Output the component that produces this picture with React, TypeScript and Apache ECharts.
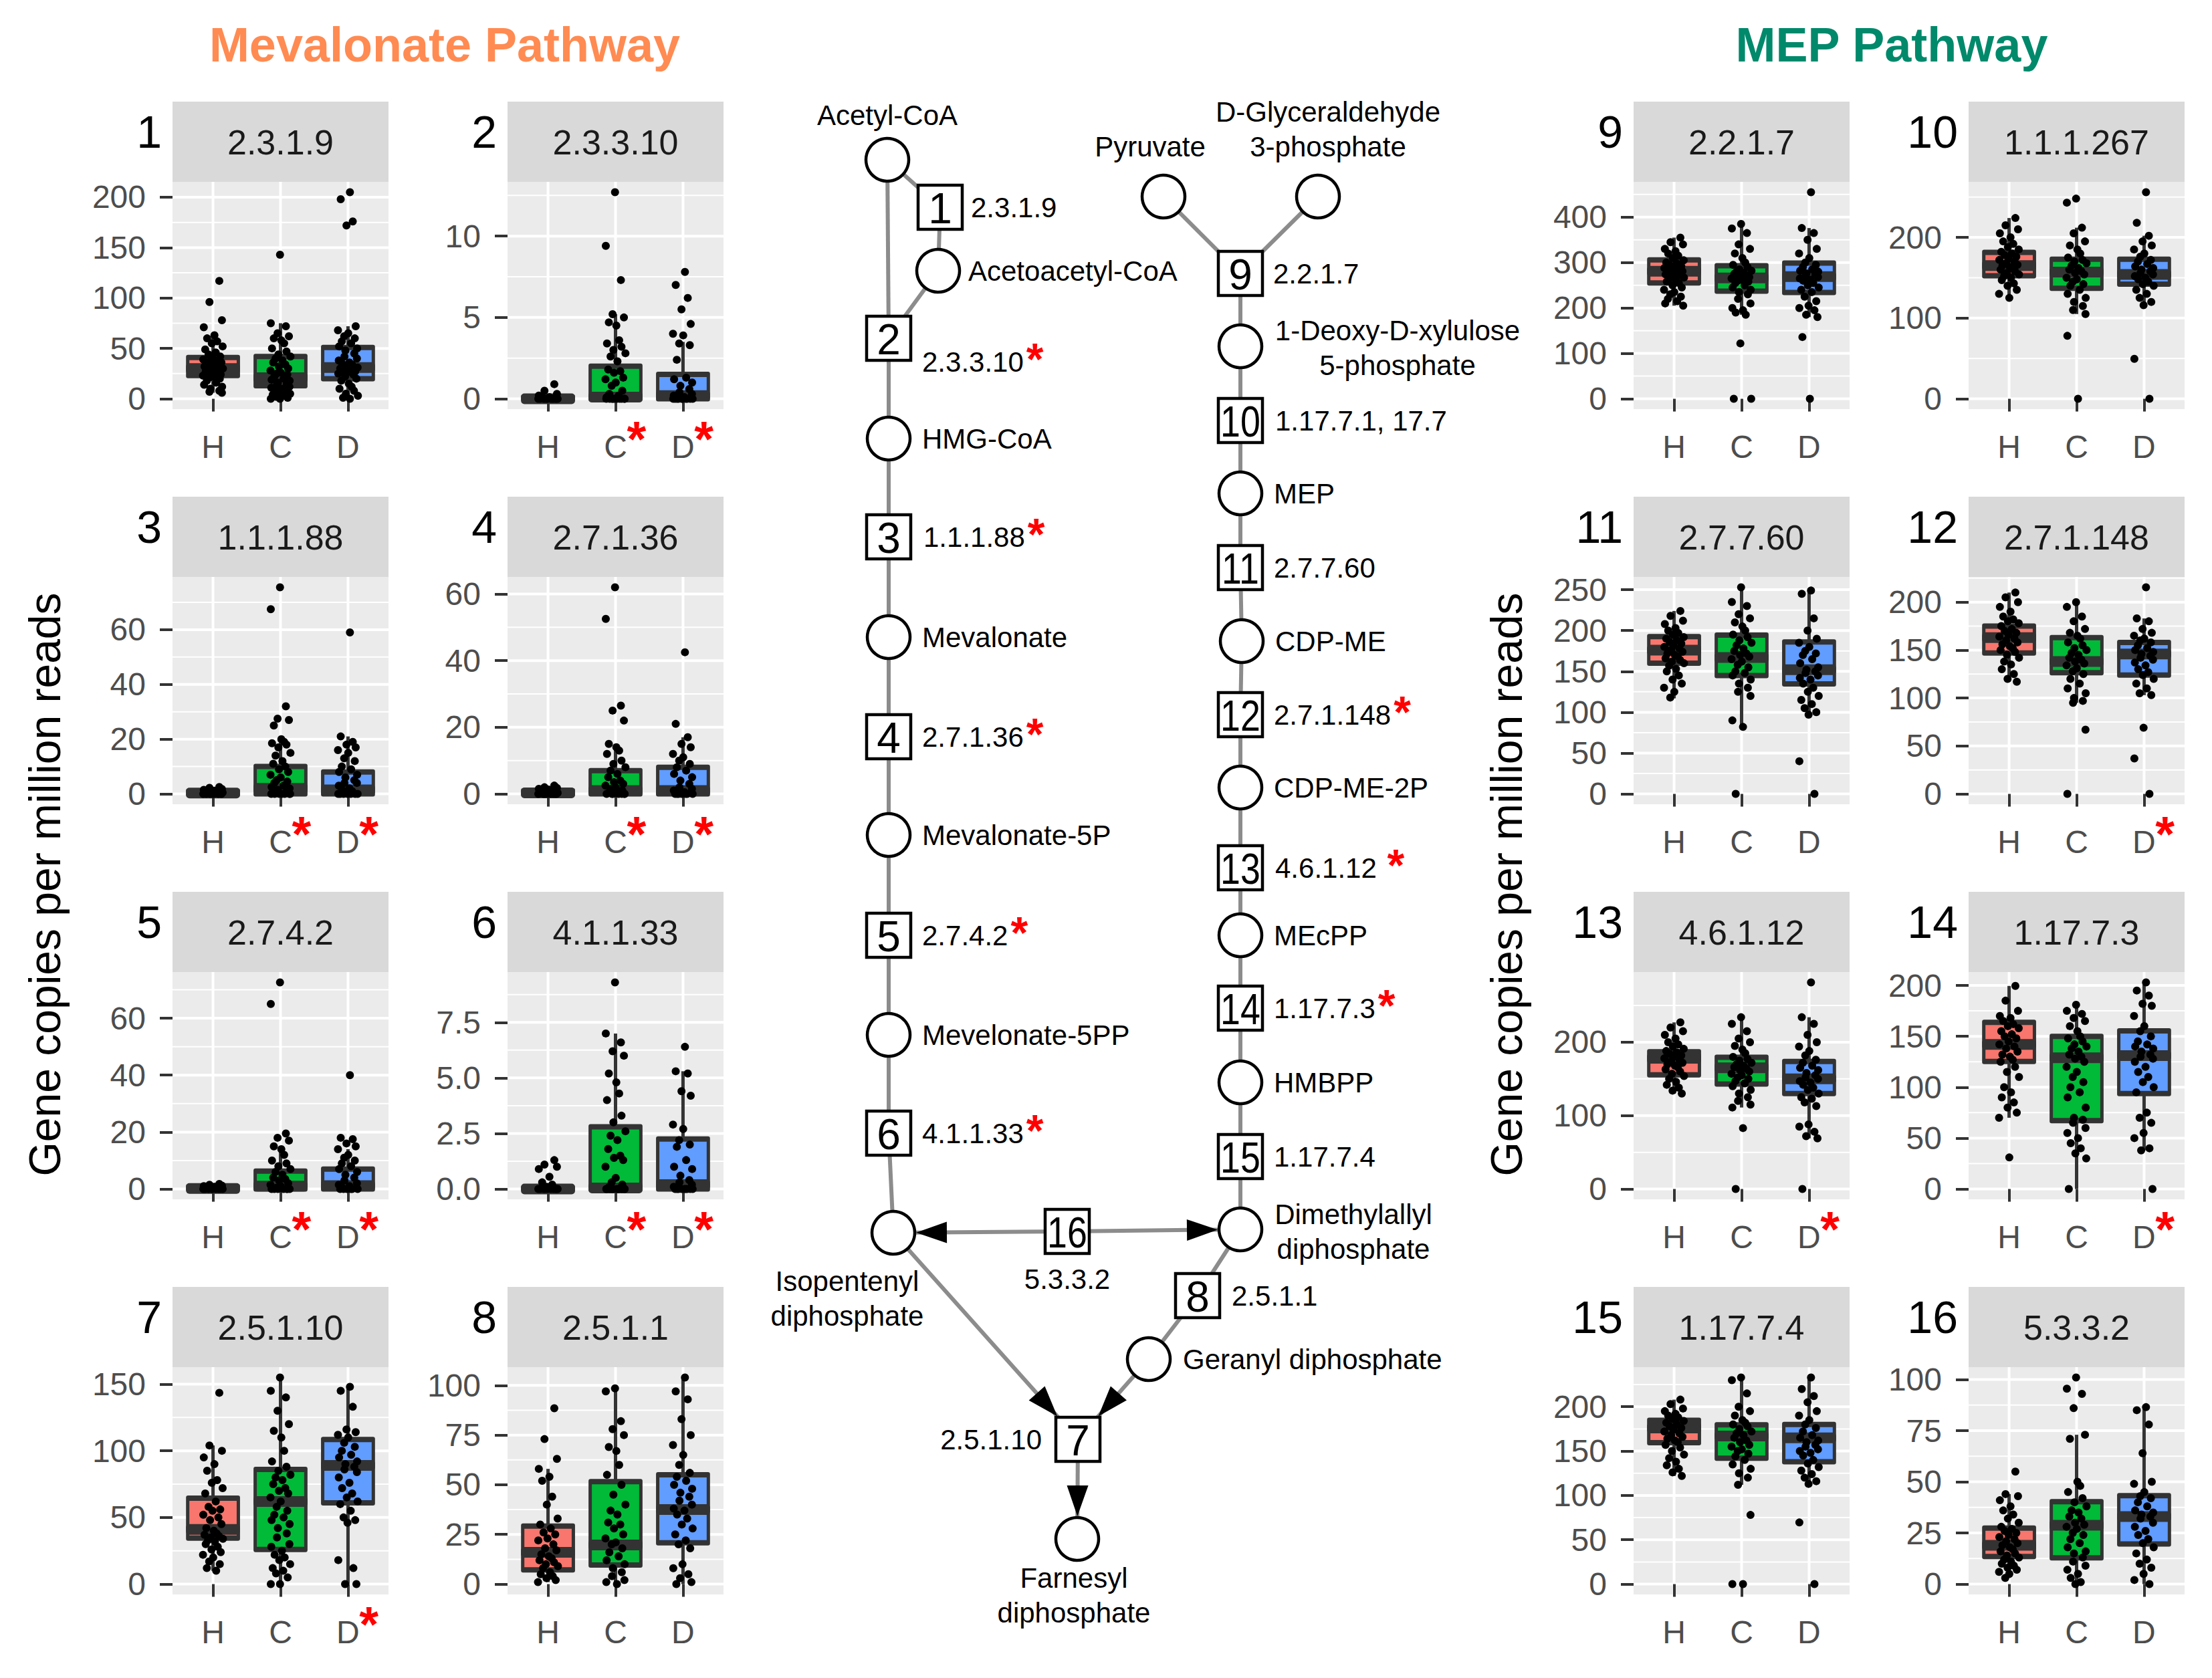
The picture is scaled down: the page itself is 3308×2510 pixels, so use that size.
import React, { useEffect, useRef } from 'react';
import * as echarts from 'echarts';

// ---------------- DATA ----------------
const GROUPS = ['H', 'C', 'D'];
const GROUP_COLORS = ['#F8766D', '#00BA38', '#619CFF'];

const EC_NUMBERS = ['2.3.1.9', '2.3.3.10', '1.1.1.88', '2.7.1.36', '2.7.4.2', '4.1.1.33', '2.5.1.10', '2.5.1.1',
  '2.2.1.7', '1.1.1.267', '2.7.7.60', '2.7.1.148', '4.6.1.12', '1.17.7.3', '1.17.7.4', '5.3.3.2'];

const Y_TICKS = [
  [0, 50, 100, 150, 200], [0, 5, 10], [0, 20, 40, 60], [0, 20, 40, 60], [0, 20, 40, 60], [0, 2.5, 5, 7.5],
  [0, 50, 100, 150], [0, 25, 50, 75, 100], [0, 100, 200, 300, 400], [0, 100, 200], [0, 50, 100, 150, 200, 250],
  [0, 50, 100, 150, 200], [0, 100, 200], [0, 50, 100, 150, 200], [0, 50, 100, 150, 200], [0, 25, 50, 75, 100],
];
const Y_DECIMALS = [0, 0, 0, 0, 0, 1, 0, 0, 0, 0, 0, 0, 0, 0, 0, 0];

// significance asterisk per group (H, C, D)
const SIGNIFICANT = [
  [0, 0, 0], [0, 1, 1], [0, 1, 1], [0, 1, 1], [0, 1, 1], [0, 1, 1], [0, 0, 1], [0, 0, 0],
  [0, 0, 0], [0, 0, 0], [0, 0, 0], [0, 0, 1], [0, 0, 1], [0, 0, 1], [0, 0, 0], [0, 0, 0],
];

// box stats per group: [lower whisker, Q1, median, Q3, upper whisker]
const P1_BOX = [[6, 23, 30, 41, 65], [0, 13, 21, 42, 75], [0, 20, 31, 51, 72]];
const P1_PTS = [
  [117, 96, 78, 71, 63, 60, 57, 55, 52, 49, 46, 44, 42, 40, 39, 38, 37, 36, 35, 34, 33, 32, 31, 30, 30, 29, 28, 27, 26, 25, 24, 23, 22, 21, 20, 18, 16, 14, 12, 10, 8, 7, 6],
  [143, 75, 72, 65, 62, 60, 58, 55, 50, 47, 44, 42, 40, 38, 36, 34, 32, 30, 28, 26, 25, 24, 22, 20, 19, 18, 16, 15, 14, 12, 11, 10, 9, 8, 6, 5, 4, 3, 2, 1, 0, 0],
  [205, 198, 176, 172, 72, 68, 65, 62, 60, 57, 55, 52, 50, 48, 45, 42, 40, 38, 36, 35, 34, 32, 31, 30, 29, 28, 27, 26, 25, 24, 22, 20, 18, 15, 12, 10, 8, 5, 3, 1, 0],
];
const P2_BOX = [[0, 0, 0, 0.1, 0.25], [0, 0, 0.1, 2.0, 5.2], [0, 0, 0.2, 1.5, 3.5]];
const P2_PTS = [
  [0.9, 0.5, 0.3, 0.2, 0.1, 0.1, 0, 0, 0, 0, 0, 0, 0, 0, 0, 0, 0, 0],
  [12.7, 9.4, 7.3, 5.2, 5.0, 4.7, 4.5, 3.6, 3.4, 3.2, 3.0, 2.8, 2.6, 2.3, 1.8, 1.7, 1.6, 1.3, 1.2, 1.0, 0.8, 0.5, 0.3, 0.2, 0.1, 0, 0, 0, 0, 0, 0, 0, 0, 0, 0],
  [7.8, 7.0, 6.2, 5.5, 4.6, 4.0, 3.9, 3.4, 3.3, 2.4, 1.3, 1.2, 1.0, 0.8, 0.6, 0.4, 0.3, 0.2, 0.1, 0, 0, 0, 0, 0, 0, 0, 0, 0, 0],
];
const P3_BOX = [[0, 0, 0.3, 1.0, 2.5], [0, 0, 2, 10, 20], [0, 0, 1.5, 8, 21]];
const P3_PTS = [
  [2.5, 2.2, 1.8, 1.5, 1.2, 1.0, 0.8, 0.6, 0.5, 0.4, 0.3, 0.2, 0.1, 0, 0, 0, 0, 0, 0, 0],
  [75.5, 67.5, 32, 27.5, 27, 25, 20, 19, 18.5, 18, 17, 15, 14, 12, 11, 10, 9, 8, 7, 6, 5, 4.5, 4, 3, 2.5, 2, 1.5, 1, 0.5, 0, 0, 0, 0, 0, 0, 0],
  [59, 21, 19, 18, 17, 16, 15, 13, 12, 10, 9, 8, 7, 6, 5, 4, 4, 3, 2, 1.5, 1, 0.5, 0, 0, 0, 0, 0, 0, 0],
];
const P4_BOX = [[0, 0, 0.3, 0.9, 2.5], [0, 0, 1, 7, 14], [0, 0, 1, 8, 17]];
const P4_PTS = [
  [2.5, 2.0, 1.8, 1.5, 1.2, 1.0, 0.8, 0.5, 0.3, 0.2, 0, 0, 0, 0, 0, 0, 0, 0],
  [62, 52.5, 26.5, 25, 22, 15, 14, 13, 12, 10, 9, 8, 7, 6, 5, 4, 3.5, 3, 2.5, 2, 1.5, 1, 0.5, 0, 0, 0, 0, 0, 0, 0],
  [42.5, 21, 17, 15, 14, 12, 11, 10, 9, 8, 7, 6, 5, 4, 3, 2, 1.5, 1, 0.5, 0, 0, 0, 0, 0, 0, 0],
];
const P5_BOX = [[0, 0, 0.2, 0.8, 1.8], [0, 0, 1, 6.3, 14.3], [0, 0, 1.2, 7, 14]];
const P5_PTS = [
  [1.8, 1.5, 1.2, 1.0, 0.8, 0.5, 0.3, 0, 0, 0, 0, 0, 0, 0, 0, 0],
  [72.6, 65, 19.5, 18, 17, 15, 14, 12, 10, 9, 8, 7, 6, 5, 4, 3.5, 3, 2, 1.5, 1, 0.5, 0, 0, 0, 0, 0, 0, 0],
  [40, 18, 17.5, 16, 15, 14, 12, 11, 10, 9, 8, 7, 6, 5, 4, 3, 2, 1.5, 1, 0.5, 0, 0, 0, 0, 0, 0],
];
const P6_BOX = [[0, 0, 0, 0.05, 0.1], [0, 0, 0.05, 2.8, 7.0], [0, 0, 0.2, 2.25, 5.3]];
const P6_PTS = [
  [1.3, 1.1, 1.0, 0.9, 0.55, 0.3, 0.2, 0.1, 0, 0, 0, 0, 0, 0, 0, 0, 0, 0],
  [9.3, 7.0, 6.6, 6.2, 6.0, 5.2, 4.8, 4.3, 4.0, 3.3, 3.0, 2.6, 2.4, 2.2, 1.8, 1.5, 1.4, 1.3, 1.0, 0.5, 0.3, 0.2, 0.1, 0, 0, 0, 0, 0, 0, 0, 0, 0, 0],
  [6.4, 5.3, 5.2, 4.4, 4.2, 2.9, 2.7, 2.2, 2.0, 1.9, 1.3, 1.0, 0.9, 0.6, 0.4, 0.3, 0.2, 0.1, 0, 0, 0, 0, 0, 0, 0, 0, 0],
];
const P7_BOX = [[10, 34.5, 41, 64.5, 104], [0, 26, 62, 86, 155], [0, 61, 89, 108.5, 148]];
const P7_PTS = [
  [143.5, 104, 100, 95, 90, 85, 78, 76, 72, 68, 62, 58, 56, 55, 52, 50, 48, 45, 42, 40, 38, 37, 36, 35, 34, 33, 32, 30, 28, 26, 24, 22, 20, 17, 15, 12, 10],
  [155, 145, 140, 130, 120, 115, 110, 100, 92, 88, 85, 82, 80, 78, 75, 72, 70, 68, 65, 62, 58, 55, 52, 50, 48, 45, 42, 38, 35, 30, 28, 25, 22, 20, 18, 15, 12, 10, 8, 5, 0, 0],
  [148, 145, 133, 116, 114, 112, 110, 106, 103, 100, 97, 95, 92, 90, 88, 86, 84, 80, 76, 72, 68, 65, 62, 60, 55, 50, 48, 46, 18, 12, 0, 0],
];
const P8_BOX = [[1, 7.2, 16, 29.2, 58], [0, 9.6, 19.7, 51.6, 98.5], [0, 20.8, 37.5, 55, 104]];
const P8_PTS = [
  [88.5, 73, 63, 58, 54, 52, 44, 40, 33, 30, 28, 26, 25, 23, 22, 20, 18, 17, 15, 14, 13, 12, 11, 10, 9, 8, 6, 5, 4, 3, 2, 1],
  [98.5, 97, 82, 78, 75, 69, 67, 60, 55, 50, 45, 40, 37, 35, 31, 30, 28, 25, 23, 21, 20, 18, 16, 14, 12, 10, 8, 6, 4, 2, 1, 0],
  [104, 97, 93, 83, 75, 70, 65, 60, 56, 54, 52, 50, 48, 46, 44, 42, 40, 38, 37, 35, 33, 30, 28, 25, 22, 20, 18, 10, 8, 5, 3, 1, 0],
];
const P9_BOX = [[205, 255, 281, 306, 355], [185, 237, 266, 293, 385], [180, 234, 269, 299, 376]];
const P9_PTS = [
  [355, 345, 340, 330, 325, 320, 315, 310, 305, 300, 298, 295, 292, 290, 288, 285, 283, 281, 280, 278, 276, 274, 272, 270, 267, 265, 262, 258, 255, 250, 245, 240, 235, 230, 225, 220, 215, 210, 205],
  [385, 375, 365, 340, 330, 320, 310, 300, 295, 290, 285, 282, 280, 278, 275, 272, 270, 268, 265, 262, 260, 258, 255, 250, 245, 240, 235, 230, 220, 210, 200, 195, 190, 185, 122, 0, 0],
  [455, 376, 365, 350, 330, 320, 310, 300, 295, 290, 285, 282, 280, 276, 273, 270, 268, 265, 262, 260, 255, 250, 245, 240, 235, 225, 215, 205, 200, 195, 185, 180, 136, 0],
];
const P10_BOX = [[125, 152.5, 165, 181.5, 224], [105, 137, 157, 173, 212], [116, 142, 154, 173, 202]];
const P10_PTS = [
  [224, 215, 210, 205, 200, 195, 192, 188, 185, 182, 180, 178, 176, 174, 172, 170, 168, 166, 165, 163, 161, 160, 158, 156, 154, 152, 150, 147, 143, 140, 135, 130, 125],
  [248, 243, 212, 205, 195, 190, 185, 180, 175, 172, 170, 168, 165, 162, 160, 158, 156, 154, 150, 148, 145, 142, 140, 135, 130, 125, 120, 115, 110, 105, 78, 0],
  [256, 218, 202, 195, 190, 185, 180, 176, 172, 170, 167, 164, 162, 160, 158, 156, 154, 152, 150, 148, 145, 142, 140, 135, 130, 125, 120, 116, 49.5, 0],
];
const P11_BOX = [[117, 160, 176, 192.5, 224], [82, 145, 167, 194.5, 253], [95, 134.6, 152, 186, 249]];
const P11_PTS = [
  [224, 218, 212, 208, 203, 200, 197, 195, 192, 190, 188, 186, 184, 182, 180, 178, 176, 174, 172, 170, 168, 166, 164, 162, 160, 157, 153, 150, 145, 140, 135, 130, 125, 118],
  [253, 235, 230, 220, 215, 210, 205, 200, 195, 192, 188, 185, 182, 178, 175, 172, 170, 168, 165, 162, 158, 155, 150, 148, 145, 140, 135, 130, 125, 120, 90, 82, 0],
  [249, 245, 215, 200, 190, 185, 180, 175, 172, 170, 165, 160, 155, 152, 150, 148, 145, 142, 140, 135, 130, 125, 120, 115, 110, 105, 100, 97, 40, 0],
];
const P12_BOX = [[117, 147, 163, 175, 210], [95, 126.4, 138, 163, 200], [103, 124, 146, 158, 183]];
const P12_PTS = [
  [210, 205, 200, 195, 190, 185, 182, 180, 178, 175, 172, 170, 168, 166, 164, 162, 160, 158, 156, 154, 152, 150, 148, 145, 142, 138, 135, 130, 125, 120, 117],
  [200, 195, 185, 180, 172, 168, 165, 162, 158, 155, 152, 150, 147, 145, 142, 140, 138, 136, 134, 131, 128, 125, 120, 115, 110, 105, 100, 97, 95, 67, 0],
  [215.5, 183, 180, 172, 168, 165, 162, 160, 158, 155, 152, 150, 148, 146, 144, 142, 140, 137, 134, 130, 127, 124, 120, 115, 110, 105, 103, 69, 37, 0],
];
const P13_BOX = [[130, 155.5, 178, 187, 227], [111, 143, 165, 179.4, 234], [69, 130, 150, 173.7, 234]];
const P13_PTS = [
  [227, 220, 215, 210, 205, 200, 197, 194, 191, 188, 186, 184, 182, 180, 178, 176, 174, 172, 170, 168, 166, 163, 160, 157, 154, 150, 146, 142, 138, 134, 130],
  [234, 225, 215, 205, 200, 195, 190, 185, 180, 177, 175, 172, 170, 168, 166, 164, 162, 160, 157, 155, 152, 150, 147, 144, 140, 135, 130, 125, 120, 115, 111, 83, 0],
  [281.5, 234, 225, 210, 200, 194, 188, 182, 176, 172, 168, 165, 162, 158, 155, 152, 150, 147, 145, 142, 138, 135, 130, 125, 123, 118, 113, 88, 85, 78, 72, 69, 0],
];
const P14_BOX = [[70, 125.3, 142, 163.7, 199.5], [0, 67.2, 129, 150, 181], [38, 93.8, 131, 155.3, 203]];
const P14_PTS = [
  [199.5, 185, 175, 170, 168, 165, 162, 160, 158, 155, 152, 150, 148, 145, 142, 140, 138, 135, 132, 130, 127, 125, 120, 115, 110, 100, 95, 90, 85, 80, 75, 70, 31],
  [181, 175, 172, 168, 165, 160, 155, 150, 148, 145, 142, 140, 138, 135, 132, 130, 128, 125, 120, 115, 110, 105, 100, 95, 90, 80, 70, 68, 65, 60, 55, 50, 45, 40, 35, 30, 0],
  [203, 195, 190, 182, 180, 170, 160, 155, 150, 145, 142, 140, 138, 135, 132, 130, 128, 125, 120, 115, 110, 105, 100, 95, 75, 70, 65, 55, 50, 40, 38, 0],
];
const P15_BOX = [[122, 159.4, 176, 184.8, 208], [112, 142, 167, 179.6, 233], [113, 138, 165, 180, 233]];
const P15_PTS = [
  [208, 203, 198, 195, 192, 190, 188, 186, 184, 182, 180, 178, 176, 174, 172, 170, 168, 166, 164, 162, 160, 157, 154, 150, 146, 142, 138, 134, 130, 126, 122],
  [233, 230, 215, 200, 195, 190, 185, 182, 180, 178, 175, 172, 170, 168, 165, 162, 160, 157, 155, 152, 150, 147, 144, 140, 135, 130, 125, 120, 112, 78, 0, 0],
  [233, 220, 212, 205, 195, 190, 185, 180, 176, 172, 168, 165, 162, 160, 157, 155, 152, 150, 148, 145, 140, 136, 132, 128, 124, 120, 116, 113, 69.5, 0],
];
const P16_BOX = [[3, 13.5, 19, 27.4, 44], [0, 12.8, 28.8, 40.3, 73], [0, 19.6, 33, 43.2, 86.5]];
const P16_PTS = [
  [55, 44, 43, 41, 38, 36, 34, 32, 30, 28, 27, 26, 25, 24, 23, 22, 21, 20, 19, 18, 17, 16, 15, 14, 13, 12, 11, 10, 9, 8, 7, 6, 5, 3],
  [101, 95.5, 93, 86, 73, 71, 50, 48, 45, 42, 40, 38, 36, 35, 33, 32, 30, 29, 28, 27, 25, 24, 22, 20, 18, 16, 15, 13, 11, 9, 7, 5, 3, 1, 0],
  [86.5, 85, 78, 64, 50, 49, 45, 43, 42, 40, 38, 36, 35, 34, 33, 32, 30, 28, 26, 24, 22, 20, 18, 15, 12, 10, 8, 5, 2, 0],
];

const BOXES = [P1_BOX, P2_BOX, P3_BOX, P4_BOX, P5_BOX, P6_BOX, P7_BOX, P8_BOX, P9_BOX, P10_BOX, P11_BOX, P12_BOX, P13_BOX, P14_BOX, P15_BOX, P16_BOX];
const POINTS = [P1_PTS, P2_PTS, P3_PTS, P4_PTS, P5_PTS, P6_PTS, P7_PTS, P8_PTS, P9_PTS, P10_PTS, P11_PTS, P12_PTS, P13_PTS, P14_PTS, P15_PTS, P16_PTS];

// fixed horizontal jitter offsets (fraction of jitter width)
const JITTER = [0.62, -0.35, 0.88, -0.91, 0.14, -0.58, 0.41, -0.12, 0.95, -0.77, 0.27, -0.44, 0.71, -0.05, -0.96, 0.53,
  -0.29, 0.83, -0.66, 0.08, 0.36, -0.84, 0.59, -0.21, 0.98, -0.49, 0.19, -0.72, 0.47, -0.15, 0.76, -0.99, 0.02, -0.38,
  0.67, -0.61, 0.31, -0.88, 0.9, -0.26];

// ---------------- PATHWAY DIAGRAM ----------------
type PNode = { x: number; y: number; kind: 'circle' | 'box'; num?: string };
const PATH_NODES: Record<string, PNode> = {
  acetyl: { x: 1327, y: 239, kind: 'circle' },
  b1: { x: 1406, y: 310, kind: 'box', num: '1' },
  acetoacetyl: { x: 1403, y: 405, kind: 'circle' },
  b2: { x: 1329, y: 506, kind: 'box', num: '2' },
  hmg: { x: 1329, y: 656, kind: 'circle' },
  b3: { x: 1329, y: 803, kind: 'box', num: '3' },
  mev: { x: 1329, y: 953, kind: 'circle' },
  b4: { x: 1329, y: 1102, kind: 'box', num: '4' },
  m5p: { x: 1329, y: 1249, kind: 'circle' },
  b5: { x: 1329, y: 1399, kind: 'box', num: '5' },
  m5pp: { x: 1329, y: 1548, kind: 'circle' },
  b6: { x: 1329, y: 1695, kind: 'box', num: '6' },
  ipp: { x: 1336, y: 1844, kind: 'circle' },
  b16: { x: 1596, y: 1842, kind: 'box', num: '16' },
  dmapp: { x: 1855, y: 1839, kind: 'circle' },
  b8: { x: 1791, y: 1938, kind: 'box', num: '8' },
  gpp: { x: 1718, y: 2033, kind: 'circle' },
  b7: { x: 1612, y: 2153, kind: 'box', num: '7' },
  fpp: { x: 1611, y: 2302, kind: 'circle' },
  pyr: { x: 1740, y: 294, kind: 'circle' },
  g3p: { x: 1971, y: 294, kind: 'circle' },
  b9: { x: 1855, y: 409, kind: 'box', num: '9' },
  dxp: { x: 1855, y: 518, kind: 'circle' },
  b10: { x: 1855, y: 629, kind: 'box', num: '10' },
  mep: { x: 1855, y: 738, kind: 'circle' },
  b11: { x: 1855, y: 849, kind: 'box', num: '11' },
  cdpme: { x: 1857, y: 959, kind: 'circle' },
  b12: { x: 1855, y: 1069, kind: 'box', num: '12' },
  cdpme2p: { x: 1855, y: 1178, kind: 'circle' },
  b13: { x: 1855, y: 1298, kind: 'box', num: '13' },
  mecpp: { x: 1855, y: 1399, kind: 'circle' },
  b14: { x: 1855, y: 1508, kind: 'box', num: '14' },
  hmbpp: { x: 1855, y: 1619, kind: 'circle' },
  b15: { x: 1855, y: 1730, kind: 'box', num: '15' },
};
const PATH_EDGES: [string, string, boolean][] = [
  ['acetyl', 'b2', false], ['acetyl', 'b1', false], ['b1', 'acetoacetyl', false], ['acetoacetyl', 'b2', false],
  ['b2', 'hmg', false], ['hmg', 'b3', false], ['b3', 'mev', false], ['mev', 'b4', false], ['b4', 'm5p', false],
  ['m5p', 'b5', false], ['b5', 'm5pp', false], ['m5pp', 'b6', false], ['b6', 'ipp', false],
  ['b16', 'ipp', true], ['b16', 'dmapp', true], ['ipp', 'b7', true], ['dmapp', 'b8', false], ['b8', 'gpp', false],
  ['gpp', 'b7', true], ['b7', 'fpp', true],
  ['pyr', 'b9', false], ['g3p', 'b9', false], ['b9', 'dxp', false], ['dxp', 'b10', false], ['b10', 'mep', false],
  ['mep', 'b11', false], ['b11', 'cdpme', false], ['cdpme', 'b12', false], ['b12', 'cdpme2p', false],
  ['cdpme2p', 'b13', false], ['b13', 'mecpp', false], ['mecpp', 'b14', false], ['b14', 'hmbpp', false],
  ['hmbpp', 'b15', false], ['b15', 'dmapp', false],
];
type PLabel = { text: string; x: number; y: number; align: 'left' | 'center' | 'right' };
const PATH_LABELS: PLabel[] = [
  { text: 'Acetyl-CoA', x: 1327, y: 172, align: 'center' },
  { text: '2.3.1.9', x: 1452, y: 310, align: 'left' },
  { text: 'Acetoacetyl-CoA', x: 1448, y: 405, align: 'left' },
  { text: '2.3.3.10{s|*}', x: 1379, y: 541, align: 'left' },
  { text: 'HMG-CoA', x: 1379, y: 656, align: 'left' },
  { text: '1.1.1.88{s|*}', x: 1381, y: 803, align: 'left' },
  { text: 'Mevalonate', x: 1379, y: 953, align: 'left' },
  { text: '2.7.1.36{s|*}', x: 1379, y: 1102, align: 'left' },
  { text: 'Mevalonate-5P', x: 1379, y: 1249, align: 'left' },
  { text: '2.7.4.2{s|*}', x: 1379, y: 1399, align: 'left' },
  { text: 'Mevelonate-5PP', x: 1379, y: 1548, align: 'left' },
  { text: '4.1.1.33{s|*}', x: 1379, y: 1695, align: 'left' },
  { text: 'Isopentenyl\ndiphosphate', x: 1267, y: 1942, align: 'center' },
  { text: '5.3.3.2', x: 1596, y: 1913, align: 'center' },
  { text: 'Dimethylallyl\ndiphosphate', x: 2024, y: 1842, align: 'center' },
  { text: '2.5.1.1', x: 1842, y: 1938, align: 'left' },
  { text: 'Geranyl diphosphate', x: 1769, y: 2033, align: 'left' },
  { text: '2.5.1.10', x: 1558, y: 2153, align: 'right' },
  { text: 'Farnesyl\ndiphosphate', x: 1606, y: 2386, align: 'center' },
  { text: 'Pyruvate', x: 1720, y: 219, align: 'center' },
  { text: 'D-Glyceraldehyde\n3-phosphate', x: 1986, y: 193, align: 'center' },
  { text: '2.2.1.7', x: 1904, y: 409, align: 'left' },
  { text: '1-Deoxy-D-xylulose\n5-phosphate', x: 2090, y: 520, align: 'center' },
  { text: '1.17.7.1, 17.7', x: 1907, y: 629, align: 'left' },
  { text: 'MEP', x: 1905, y: 738, align: 'left' },
  { text: '2.7.7.60', x: 1905, y: 849, align: 'left' },
  { text: 'CDP-ME', x: 1907, y: 959, align: 'left' },
  { text: '2.7.1.148{s|*}', x: 1905, y: 1069, align: 'left' },
  { text: 'CDP-ME-2P', x: 1905, y: 1178, align: 'left' },
  { text: '4.6.1.12 {s|*}', x: 1907, y: 1298, align: 'left' },
  { text: 'MEcPP', x: 1905, y: 1399, align: 'left' },
  { text: '1.17.7.3{s|*}', x: 1905, y: 1508, align: 'left' },
  { text: 'HMBPP', x: 1905, y: 1619, align: 'left' },
  { text: '1.17.7.4', x: 1905, y: 1730, align: 'left' },
];

// ---------------- LAYOUT / STYLE ----------------
const W = 3308;
const H = 2510;
const FONT = '"Liberation Sans", Arial, Helvetica, sans-serif';
const COL_X = [258, 759, 2443, 2944];
const ROW_Y = [152, 743, 1334, 1925];
const PLOT_W = 323;
const STRIP_H = 120;
const PLOT_H = 340;
const BOX_HALF_W = 0.4;
const JITTER_W = 0.15;
const CIRCLE_R = 32;
const SQ_HALF = 33;
const ARROW_L = 46;
const ARROW_HW = 16;

function buildOption() {
  const grids: any[] = [];
  const xAxes: any[] = [];
  const yAxes: any[] = [];
  const series: any[] = [];
  const elements: any[] = [];

  BOXES.forEach((box, i) => {
    const pts = POINTS[i];
    const ticks = Y_TICKS[i];
    const sig = SIGNIFICANT[i];
    const dec = Y_DECIMALS[i];
    const col = i < 8 ? i % 2 : 2 + (i % 2);
    const row = Math.floor((i % 8) / 2);
    const left = COL_X[col];
    const stripTop = ROW_Y[row];
    const top = stripTop + STRIP_H;

    const all: number[] = [];
    pts.forEach((a) => a.forEach((v) => all.push(v)));
    box.forEach((a) => a.forEach((v) => all.push(v)));
    const lo = Math.min(...all);
    const hi = Math.max(...all);
    const pad = (hi - lo) * 0.05;
    const yMin = lo - pad;
    const yMax = hi + pad;
    const step = ticks[1] - ticks[0];
    const minor: number[] = [];
    ticks.forEach((t) => minor.push(t - step / 2));
    minor.push(ticks[ticks.length - 1] + step / 2);
    const minorIn = minor.filter((v) => v > yMin && v < yMax);

    grids.push({ left, top, width: PLOT_W, height: PLOT_H, containLabel: false, outerBoundsMode: 'none' });

    xAxes.push({
      gridIndex: i, type: 'value', min: 0.4, max: 3.6,
      axisLine: { show: false }, splitLine: { show: false },
      axisTick: { show: true, length: 19, customValues: [1, 2, 3], lineStyle: { color: '#333333', width: 4 } },
      axisLabel: {
        show: true, customValues: [1, 2, 3], margin: 28,
        formatter: (v: number) => {
          const g = Math.round(v) - 1;
          return `{p| }{t|${GROUPS[g]}}{${sig[g] ? 's' : 'p'}|${sig[g] ? '*' : ' '}}`;
        },
        rich: {
          t: { fontSize: 48, color: '#4D4D4D', fontFamily: FONT, lineHeight: 56 },
          s: { fontSize: 74, color: '#FF0000', fontFamily: FONT, fontWeight: 'bold', width: 28, lineHeight: 56, padding: [0, 0, 24, 0] },
          p: { fontSize: 74, fontFamily: FONT, width: 28, lineHeight: 56, padding: [0, 0, 24, 0] },
        },
      },
    });
    yAxes.push({
      gridIndex: i, type: 'value', min: yMin, max: yMax,
      axisLine: { show: false }, splitLine: { show: false },
      axisTick: { show: true, length: 19, customValues: ticks, lineStyle: { color: '#333333', width: 4 } },
      axisLabel: {
        show: true, customValues: ticks, margin: 40, fontSize: 48, color: '#4D4D4D', fontFamily: FONT,
        formatter: (v: number) => v.toFixed(dec),
      },
    });

    // panel background + grid lines
    series.push({
      type: 'custom', xAxisIndex: i, yAxisIndex: i, silent: true, z: 0, clip: false,
      data: [[1, 0]],
      renderItem: (params: any, api: any) => {
        const cs = params.coordSys;
        const children: any[] = [
          { type: 'rect', shape: { x: cs.x, y: cs.y, width: cs.width, height: cs.height }, style: { fill: '#EBEBEB' } },
        ];
        minorIn.forEach((v) => {
          const y = api.coord([1, v])[1];
          children.push({ type: 'line', shape: { x1: cs.x, y1: y, x2: cs.x + cs.width, y2: y }, style: { stroke: '#FFFFFF', lineWidth: 2 } });
        });
        ticks.forEach((v) => {
          const y = api.coord([1, v])[1];
          children.push({ type: 'line', shape: { x1: cs.x, y1: y, x2: cs.x + cs.width, y2: y }, style: { stroke: '#FFFFFF', lineWidth: 4 } });
        });
        [1, 2, 3].forEach((xv) => {
          const x = api.coord([xv, yMin])[0];
          children.push({ type: 'line', shape: { x1: x, y1: cs.y, x2: x, y2: cs.y + cs.height }, style: { stroke: '#FFFFFF', lineWidth: 4 } });
        });
        return { type: 'group', children };
      },
    });

    // boxes
    series.push({
      type: 'custom', xAxisIndex: i, yAxisIndex: i, z: 2, clip: false,
      data: box.map((b, g) => [g + 1, b[0], b[1], b[2], b[3], b[4], g]),
      encode: { x: 0, y: [1, 2, 3, 4, 5] },
      renderItem: (params: any, api: any) => {
        const x = api.value(0);
        const g = api.value(6);
        const vLo = api.value(1), vQ1 = api.value(2), vMed = api.value(3), vQ3 = api.value(4), vHi = api.value(5);
        const xl = api.coord([x - BOX_HALF_W, vQ1])[0];
        const xr = api.coord([x + BOX_HALF_W, vQ1])[0];
        const xc = api.coord([x, vQ1])[0];
        const yQ1 = api.coord([x, vQ1])[1];
        const yQ3 = api.coord([x, vQ3])[1];
        const yMed = api.coord([x, vMed])[1];
        const yLo = api.coord([x, vLo])[1];
        const yHi = api.coord([x, vHi])[1];
        const h = yQ1 - yQ3;
        return {
          type: 'group',
          children: [
            { type: 'line', shape: { x1: xc, y1: yQ3, x2: xc, y2: yHi }, style: { stroke: '#333333', lineWidth: 5 } },
            { type: 'line', shape: { x1: xc, y1: yQ1, x2: xc, y2: yLo }, style: { stroke: '#333333', lineWidth: 5 } },
            { type: 'rect', shape: { x: xl, y: yQ3 - 4, width: xr - xl, height: h + 8, r: 3 }, style: { fill: '#333333' } },
            { type: 'rect', shape: { x: xl + 5, y: yQ3 + 4, width: xr - xl - 10, height: Math.max(0, h - 8) }, style: { fill: GROUP_COLORS[g] } },
            { type: 'rect', shape: { x: xl, y: yMed - 8, width: xr - xl, height: 16, r: 5 }, style: { fill: '#333333' } },
          ],
        };
      },
    });

    // jittered points
    const scatterData: number[][] = [];
    pts.forEach((arr, g) => {
      arr.forEach((v, k) => {
        scatterData.push([g + 1 + JITTER[(k + g * 13) % JITTER.length] * JITTER_W, v]);
      });
    });
    series.push({
      type: 'scatter', xAxisIndex: i, yAxisIndex: i, z: 3, silent: true,
      symbol: 'circle', symbolSize: 12, itemStyle: { color: '#000000', opacity: 1 },
      data: scatterData,
    });

    // strip + panel number
    elements.push({ type: 'rect', shape: { x: left, y: stripTop, width: PLOT_W, height: STRIP_H }, style: { fill: '#D9D9D9' }, z: 1 });
    elements.push({
      type: 'text', x: left + PLOT_W / 2, y: stripTop + STRIP_H / 2 + 1, z: 2,
      style: { text: EC_NUMBERS[i], fontSize: 52, fontFamily: FONT, fill: '#1A1A1A', align: 'center', verticalAlign: 'middle' },
    });
    elements.push({
      type: 'text', x: left - 16, y: stripTop + 45, z: 2,
      style: { text: String(i + 1), fontSize: 68, fontFamily: FONT, fill: '#000000', align: 'right', verticalAlign: 'middle' },
    });
  });

  // titles
  elements.push({ type: 'text', x: 665, y: 67, z: 2, style: { text: 'Mevalonate Pathway', fontSize: 72, fontWeight: 'bold', fontFamily: FONT, fill: '#FF8B52', align: 'center', verticalAlign: 'middle' } });
  elements.push({ type: 'text', x: 2829, y: 67, z: 2, style: { text: 'MEP Pathway', fontSize: 72, fontWeight: 'bold', fontFamily: FONT, fill: '#00896B', align: 'center', verticalAlign: 'middle' } });
  [67, 2253].forEach((x) => {
    elements.push({ type: 'text', x, y: 1323, rotation: Math.PI / 2, z: 2, style: { text: 'Gene copies per million reads', fontSize: 66, fontFamily: FONT, fill: '#000000', align: 'center', verticalAlign: 'middle' } });
  });

  // pathway diagram
  const arrows: any[] = [];
  PATH_EDGES.forEach(([a, b, arrow]) => {
    const A = PATH_NODES[a];
    const B = PATH_NODES[b];
    elements.push({ type: 'line', z: 10, shape: { x1: A.x, y1: A.y, x2: B.x, y2: B.y }, style: { stroke: '#8C8C8C', lineWidth: 6 } });
    if (arrow) {
      const dx = B.x - A.x, dy = B.y - A.y;
      const len = Math.hypot(dx, dy);
      const ux = dx / len, uy = dy / len;
      const d = B.kind === 'circle' ? CIRCLE_R + 2 : SQ_HALF / Math.max(Math.abs(ux), Math.abs(uy)) + 2;
      const tx = B.x - ux * d, ty = B.y - uy * d;
      const bx = tx - ux * ARROW_L, by = ty - uy * ARROW_L;
      arrows.push({
        type: 'polygon', z: 12,
        shape: { points: [[tx, ty], [bx - uy * ARROW_HW, by + ux * ARROW_HW], [bx + uy * ARROW_HW, by - ux * ARROW_HW]] },
        style: { fill: '#000000' },
      });
    }
  });
  Object.keys(PATH_NODES).forEach((k) => {
    const n = PATH_NODES[k];
    if (n.kind === 'circle') {
      elements.push({ type: 'circle', z: 11, shape: { cx: n.x, cy: n.y, r: CIRCLE_R }, style: { fill: '#FFFFFF', stroke: '#000000', lineWidth: 4.5 } });
    } else {
      elements.push({ type: 'rect', z: 11, shape: { x: n.x - SQ_HALF, y: n.y - SQ_HALF, width: SQ_HALF * 2, height: SQ_HALF * 2 }, style: { fill: '#FFFFFF', stroke: '#000000', lineWidth: 4.5 } });
      elements.push({
        type: 'text', z: 13, x: n.x, y: n.y + 2, scaleX: (n.num || '').length > 1 ? 0.84 : 1,
        style: { text: n.num, fontSize: 64, fontFamily: FONT, fill: '#000000', align: 'center', verticalAlign: 'middle' },
      });
    }
  });
  arrows.forEach((a) => elements.push(a));
  PATH_LABELS.forEach((l) => {
    elements.push({
      type: 'text', z: 13, x: l.x, y: l.y,
      style: {
        text: l.text, fontSize: 42, fontFamily: FONT, fill: '#000000', align: l.align, verticalAlign: 'middle', lineHeight: 52,
        rich: { s: { fontSize: 66, fontWeight: 'bold', fill: '#FF0000', color: '#FF0000', fontFamily: FONT, padding: [0, 0, 8, 4] } },
      },
    });
  });

  return {
    animation: false,
    backgroundColor: '#FFFFFF',
    textStyle: { fontFamily: FONT },
    grid: grids,
    xAxis: xAxes,
    yAxis: yAxes,
    series,
    graphic: { elements },
  };
}

export default function App() {
  const ref = useRef<HTMLDivElement>(null);
  useEffect(() => {
    document.body.style.margin = '0';
    const chart = echarts.init(ref.current as HTMLDivElement, null, { renderer: 'svg', width: W, height: H });
    chart.setOption(buildOption() as any);
    return () => chart.dispose();
  }, []);
  return <div ref={ref} style={{ width: W, height: H }} />;
}
